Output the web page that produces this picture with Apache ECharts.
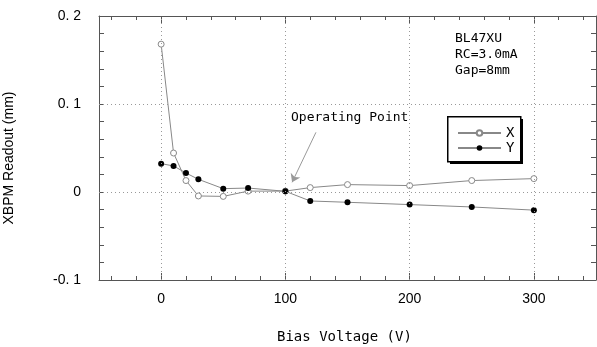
<!DOCTYPE html>
<html><head><meta charset="utf-8">
<script src="https://cdn.jsdelivr.net/npm/echarts@6/dist/echarts.min.js"></script>
<style>html,body{margin:0;padding:0;background:#fff}#c{width:597px;height:347px}</style>
</head><body><div id="c"></div>
<script>
const voltages = [0, 10, 20, 30, 50, 70, 100, 120, 150, 200, 250, 300];
const xReadout = [0.168, 0.0443, 0.013, -0.0045, -0.005, 0.001, 0.001, 0.005, 0.0084, 0.0073, 0.013, 0.0152];
const yReadout = [0.0322, 0.0296, 0.0216, 0.0144, 0.0038, 0.0045, 0.0008, -0.0102, -0.0117, -0.0143, -0.017, -0.0206];
const xTickValues = [0, 100, 200, 300];
const xMinorTicks = [-40,-20,0,20,40,60,80,100,120,140,160,180,200,220,240,260,280,300,320,340];
const yTickValues = [-0.1, 0, 0.1, 0.2];
const yTickLabels = ['-0. 1', '0', '0. 1', '0. 2'];
const infoLines = ['BL47XU', 'RC=3.0mA', 'Gap=8mm'];

const chart = echarts.init(document.getElementById('c'));
const frame = '#555';
function xAx(pos, major, labels) {
  return {
    type: 'value', min: -50, max: 350, position: pos,
    axisLine: {show: major, onZero: false, lineStyle: {color: frame, width: 1}},
    axisTick: {show: true, inside: true, length: major ? 7 : 4, customValues: major ? xTickValues : xMinorTicks, lineStyle: {color: frame}},
    axisLabel: labels ? {show: true, customValues: xTickValues, margin: 12, color: '#000', fontFamily: 'Liberation Sans', fontSize: 14} : {show: false},
    splitLine: {show: false}
  };
}
function yAx(pos, labels) {
  return {
    type: 'value', min: -0.1, max: 0.2, interval: 0.1, position: pos,
    axisLine: {show: true, onZero: false, lineStyle: {color: frame, width: 1}},
    axisTick: {show: true, inside: true, length: 5, lineStyle: {color: frame}},
    minorTick: {show: true, splitNumber: 5, length: 5, lineStyle: {color: frame}},
    axisLabel: labels ? {show: true, margin: 18, color: '#000', fontFamily: 'Liberation Sans', fontSize: 14,
      formatter: v => { const i = yTickValues.findIndex(t => Math.abs(t - v) < 1e-9); return i >= 0 ? yTickLabels[i] : ''; }} : {show: false},
    splitLine: {show: false}
  };
}
const option = {
  animation: false,
  grid: {left: 99, top: 16, right: 1, bottom: 67},
  xAxis: [xAx('bottom', true, true), xAx('bottom', false, false), xAx('top', true, false), xAx('top', false, false)],
  yAxis: [yAx('left', true), yAx('right', false)],
  legend: {
    left: 457, top: 126, orient: 'vertical', itemWidth: 43, itemHeight: 7, itemGap: 1, padding: 0, z: 10,
    textStyle: {fontFamily: 'DejaVu Sans Mono', fontSize: 14, lineHeight: 14, color: '#000'},
    data: ['X', 'Y']
  },
  series: [
    {
      name: 'X', type: 'line', data: voltages.map((v, i) => [v, xReadout[i]]),
      symbol: 'circle', symbolSize: 6, showSymbol: true,
      lineStyle: {color: '#888', width: 1},
      itemStyle: {color: '#fff', borderColor: '#888', borderWidth: 1},
      markLine: {
        silent: true, symbol: 'none', label: {show: false},
        lineStyle: {color: '#999', type: [1, 3], width: 1},
        data: xTickValues.map(v => ({xAxis: v})).concat([{yAxis: 0.1}, {yAxis: 0}])
      },
      z: 3
    },
    {
      name: 'Y', type: 'line', data: voltages.map((v, i) => [v, yReadout[i]]),
      symbol: 'circle', symbolSize: 6, showSymbol: true,
      lineStyle: {color: '#888', width: 1},
      itemStyle: {color: '#000', borderColor: '#000', borderWidth: 0},
      markLine: {
        silent: true, symbol: ['none', 'arrow'], symbolSize: 8, label: {show: false},
        lineStyle: {color: '#999', type: 'solid', width: 1},
        data: [[{coord: [124.6, 0.0678]}, {coord: [105.4, 0.011]}]]
      },
      z: 4
    }
  ],
  graphic: [
    {type: 'rect', left: 450, top: 119, z: 1, shape: {width: 73, height: 45}, style: {fill: '#000'}},
    {type: 'rect', left: 447, top: 116, z: 2, shape: {width: 73, height: 45}, style: {fill: '#fff', stroke: '#000', lineWidth: 1.5}},
    {type: 'text', left: 455, top: 31, z: 5, style: {text: infoLines.join('\n'), font: '13px "DejaVu Sans Mono"', fill: '#000', lineHeight: 16}},
    {type: 'text', left: 291, top: 111, z: 5, style: {text: 'Operating Point', font: '13px "DejaVu Sans Mono"', fill: '#000'}},
    {type: 'text', left: 277, top: 330, z: 5, style: {text: 'Bias Voltage (V)', font: '14px "DejaVu Sans Mono"', fill: '#000'}},
    {type: 'text', x: 9, y: 158, rotation: Math.PI / 2, z: 5, style: {text: 'XBPM Readout (mm)', font: '14px "Liberation Sans"', fill: '#000', align: 'center', verticalAlign: 'middle'}}
  ]
};
chart.setOption(option);
</script></body></html>
